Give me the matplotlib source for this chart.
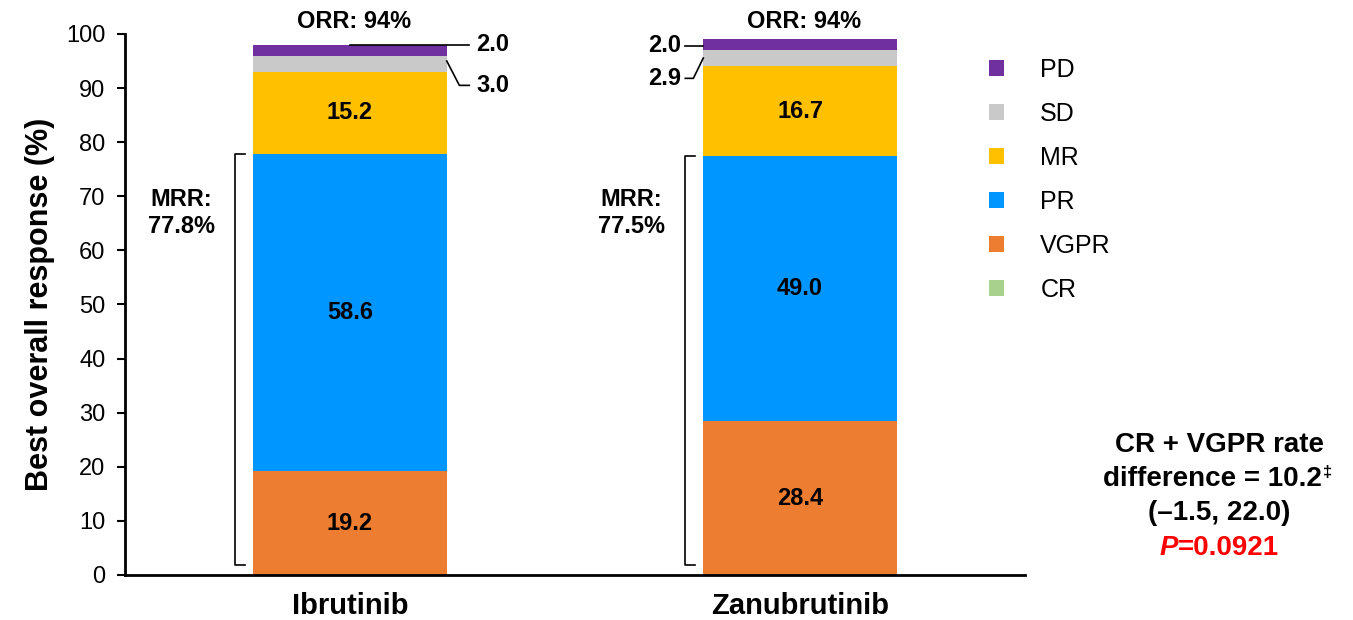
import matplotlib.pyplot as plt
from matplotlib.patches import Patch
import numpy as np

plt.rcParams['font.family'] = ['Liberation Sans', 'DejaVu Sans']

# data
drugs = ["Ibrutinib", "Zanubrutinib"]
categories = ["CR", "VGPR", "PR", "MR", "SD", "PD"]
cr = [0.0, 0.0]
vgpr = [19.2, 28.4]
pr = [58.6, 49.0]
mr = [15.2, 16.7]
sd = [3.0, 2.9]
pd_ = [2.0, 2.0]
mrr = [77.8, 77.5]
orr = ["ORR: 94%", "ORR: 94%"]
colors = {"CR": "#A9D18E", "VGPR": "#ED7D31", "PR": "#0096FF",
          "MR": "#FFC000", "SD": "#C9C9C9", "PD": "#7030A0"}

series = [cr, vgpr, pr, mr, sd, pd_]
LBL = 17

fig = plt.figure(figsize=(13.53, 6.2), dpi=100)
ax = fig.add_axes([0.0924, 0.0726, 0.6652, 0.8726])

x = np.arange(len(drugs))
w = 0.43
bottom = np.zeros(len(drugs))
for name, vals in zip(categories, series):
    vals = np.array(vals)
    ax.bar(x, vals, w, bottom=bottom, color=colors[name], edgecolor='none', zorder=2)
    # labels inside the larger segments
    if name in ("VGPR", "PR", "MR"):
        for i in range(len(drugs)):
            ax.text(x[i], bottom[i] + vals[i] / 2, f"{vals[i]:.1f}", ha='center', va='center',
                    fontsize=LBL, fontweight='bold', color='black', zorder=3)
    bottom = bottom + vals

# small segment call-outs
top_mr = np.array(vgpr) + np.array(pr) + np.array(mr)
top_sd = top_mr + np.array(sd)
top_pd = top_sd + np.array(pd_)

# Ibrutinib, labels on the right
ax.plot([0, 0.265], [top_pd[0], top_pd[0]], color='black', lw=1.2, zorder=4)
ax.text(0.28, top_pd[0], f"{pd_[0]:.1f}", ha='left', va='center', fontsize=LBL, fontweight='bold')
ax.plot([w / 2, w / 2 + 0.028, 0.265], [top_mr[0] + sd[0] / 2 + 0.5, top_mr[0] - 2.5, top_mr[0] - 2.5],
        color='black', lw=1.2, zorder=4)
ax.text(0.28, top_mr[0] - 2.5, f"{sd[0]:.1f}", ha='left', va='center', fontsize=LBL, fontweight='bold')

# Zanubrutinib, labels on the left
ax.plot([1 - w / 2 - 0.04, 1 - w / 2], [top_sd[1] + pd_[1] / 2 - 0.2, top_sd[1] + pd_[1] / 2 - 0.2],
        color='black', lw=1.2, zorder=4)
ax.text(1 - w / 2 - 0.05, top_sd[1] + pd_[1] / 2 - 0.2, f"{pd_[1]:.1f}", ha='right', va='center',
        fontsize=LBL, fontweight='bold')
ax.plot([1 - w / 2 - 0.04, 1 - w / 2 - 0.022, 1 - w / 2], [top_mr[1] - 2.3, top_mr[1] - 2.3, top_mr[1] + sd[1] / 2],
        color='black', lw=1.2, zorder=4)
ax.text(1 - w / 2 - 0.05, top_mr[1] - 2.3, f"{sd[1]:.1f}", ha='right', va='center',
        fontsize=LBL, fontweight='bold')

# ORR labels
for i in range(len(drugs)):
    ax.text(x[i] + 0.01, 102.3, orr[i], ha='center', va='center', fontsize=LBL, fontweight='bold',
            clip_on=False)

# MRR brackets
for i in range(len(drugs)):
    bx = x[i] - w / 2 - 0.041
    ax.plot([bx + 0.022, bx, bx, bx + 0.022], [1.8, 1.8, mrr[i], mrr[i]], color='black', lw=1.2)
    ax.text(x[i] - 0.375, 66.9, f"MRR:\n{mrr[i]:.1f}%", ha='center', va='center',
            fontsize=LBL, fontweight='bold', linespacing=1.2)

ax.set_xlim(-0.5, 1.5)
ax.set_ylim(0, 100)
ax.set_yticks(np.arange(0, 101, 10))
ax.set_xticks(x)
ax.set_xticklabels(drugs, fontsize=21, fontweight='bold')
ax.tick_params(axis='x', length=0, pad=12)
ax.tick_params(axis='y', labelsize=17, length=6, width=1.5, direction='out', pad=8)
ax.set_ylabel("Best overall response (%)", fontsize=22, fontweight='bold', labelpad=8)
for s in ("top", "right"):
    ax.spines[s].set_visible(False)
for s in ("left", "bottom"):
    ax.spines[s].set_linewidth(2)

# legend
handles = [Patch(facecolor=colors[c], edgecolor='none', label=c) for c in categories[::-1]]
ax.legend(handles=handles, loc='upper left', bbox_to_anchor=(0.935, 0.998), frameon=False,
          fontsize=18, handlelength=0.6, handleheight=0.6, handletextpad=1.45, labelspacing=0.8)

# right-hand annotation
cx = 0.901
FS = 20
fig.text(cx, 1 - 445 / 620, "CR + VGPR rate", ha='center', va='center', fontsize=FS, fontweight='bold')
t2 = fig.text(cx - 0.005, 1 - 479 / 620, "difference = 10.2", ha='center', va='center', fontsize=FS,
              fontweight='bold')
ax.annotate("\u2021", xy=(1, 1), xycoords=t2, xytext=(1, 1), textcoords='offset points',
            ha='left', va='top', fontsize=12, fontweight='bold')
fig.text(cx, 1 - 513 / 620, "(\u20131.5, 22.0)", ha='center', va='center', fontsize=FS, fontweight='bold')
tp = fig.text(cx - 0.037, 1 - 548 / 620, "P", ha='center', va='center', fontsize=FS, fontweight='bold',
              style='italic', color='#FF0000')
ax.annotate("=0.0921", xy=(1, 0), xycoords=tp, ha='left', va='bottom', fontsize=FS, fontweight='bold',
            color='#FF0000')

fig.savefig("out.png", dpi=100)
